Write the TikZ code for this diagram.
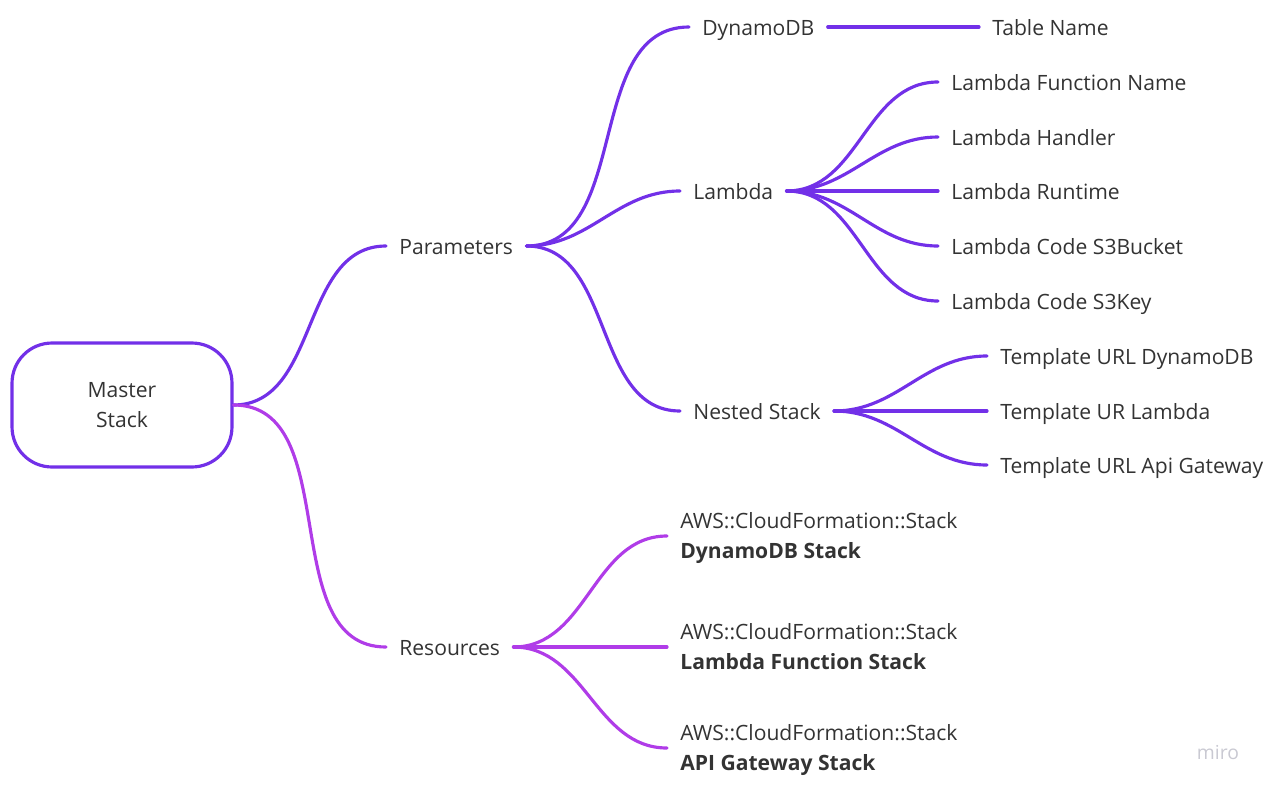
\documentclass[tikz,border=0pt]{standalone}
\usepackage{fontspec}
\setmainfont{Open Sans}
\usepackage{xcolor}
\usepackage{tikz}
\usetikzlibrary{
    arrows.meta,
    positioning
}

\definecolor{violetline}{HTML}{7230E8}
\definecolor{magentaline}{HTML}{B03CE8}
\definecolor{textgray}{HTML}{333333}
\definecolor{marklight}{HTML}{C9C9D2}

\begin{document}
\begin{tikzpicture}[
    x=0.02cm,
    y=-0.02cm,
    node_style/.style={
        anchor=west,
        inner xsep=0.26cm,
        inner ysep=0pt,
        align=left,
        text=textgray,
        text height=11pt,
        text depth=1pt,
        font=\fontsize{12}{17}\selectfont
    },
    stack_style/.style={
        node_style,
        text height=27pt
    },
    root_style/.style={
        draw=violetline,
        line width=1.8pt,
        rounded corners=0.8cm,
        minimum width=4.4cm,
        minimum height=2.48cm,
        align=center,
        text=textgray,
        font=\fontsize{12}{17.5}\selectfont
    },
    edge_style/.style={
        draw=violetline,
        line width=1.8pt,
        line cap=round
    },
    res_edge/.style={
        edge_style,
        draw=magentaline
    }
]
\useasboundingbox (0,0) rectangle (1268,788);

% --- Nodes ---
\node[root_style] (Master) at (122,405) {Master\\Stack};

\node[node_style] (Params) at (386,246) {Parameters};
\node[node_style] (Res) at (386,647) {Resources};

% Parameters branch
\node[node_style] (Dynamo) at (689,27) {DynamoDB};
\node[node_style] (Lambda) at (680,191) {Lambda};
\node[node_style] (Nested) at (680,411) {Nested Stack};

\node[node_style] (TableName) at (979,27) {Table Name};

\node[node_style] (LFName) at (938,82) {Lambda Function Name};
\node[node_style] (LHandler) at (938,137) {Lambda Handler};
\node[node_style] (LRuntime) at (938,191) {Lambda Runtime};
\node[node_style] (LBucket) at (938,246) {Lambda Code S3Bucket};
\node[node_style] (LKey) at (938,301) {Lambda Code S3Key};

\node[node_style] (TDynamo) at (987,356) {Template URL DynamoDB};
\node[node_style] (TLambda) at (987,411) {Template UR Lambda};
\node[node_style] (TApi) at (987,465) {Template URL Api Gateway};

% Resources branch
\node[stack_style] (SDynamo) at (667,536) {AWS::CloudFormation::Stack\\\textbf{DynamoDB Stack}};
\node[stack_style] (SLambda) at (667,647) {AWS::CloudFormation::Stack\\\textbf{Lambda Function Stack}};
\node[stack_style] (SApi) at (667,748) {AWS::CloudFormation::Stack\\\textbf{API Gateway Stack}};

% watermark
\node[text=marklight, font=\fontsize{11}{13}\selectfont] (Miro) at (1218,752) {miro};

% --- Edges ---
\draw[edge_style] (Master.east) to[out=0,in=180] (Params.west);
\draw[res_edge] (Master.east) to[out=0,in=180] (Res.west);

\draw[edge_style] (Params.east) to[out=0,in=180] (Dynamo.west);
\draw[edge_style] (Params.east) to[out=0,in=180] (Lambda.west);
\draw[edge_style] (Params.east) to[out=0,in=180] (Nested.west);

\draw[edge_style] (Dynamo.east) -- (TableName.west);

\foreach \leaf in {LFName,LHandler,LRuntime,LBucket,LKey}
    \draw[edge_style] (Lambda.east) to[out=0,in=180] (\leaf.west);

\foreach \leaf in {TDynamo,TLambda,TApi}
    \draw[edge_style] (Nested.east) to[out=0,in=180] (\leaf.west);

\foreach \leaf in {SDynamo,SLambda,SApi}
    \draw[res_edge] (Res.east) to[out=0,in=180] (\leaf.west);

\end{tikzpicture}
\end{document}
